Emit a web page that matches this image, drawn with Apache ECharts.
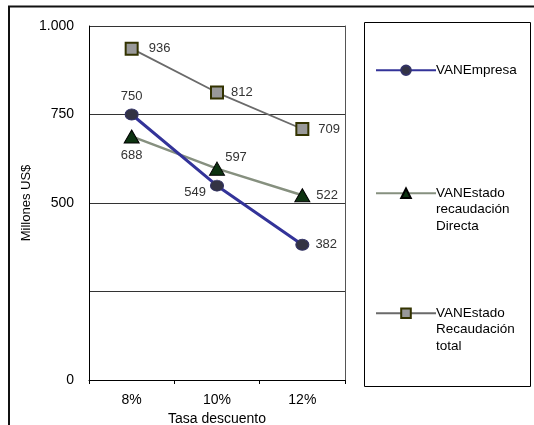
<!DOCTYPE html>
<html>
<head>
<meta charset="utf-8">
<script src="https://cdn.jsdelivr.net/npm/echarts@6/dist/echarts.min.js"></script>
<style>html,body{margin:0;padding:0;background:#fff;}#c{width:534px;height:425px;}</style>
</head>
<body>
<div id="c"></div>
<script>
var categories = ['8%', '10%', '12%'];
var vanEmpresa = [750, 549, 382];
var vanDirecta = [688, 597, 522];
var vanTotal = [936, 812, 709];
var seriesNames = ['VANEmpresa', 'VANEstado recaudación Directa', 'VANEstado Recaudación total'];
var yTickLabels = {0: '0', 250: '', 500: '500', 750: '750', 1000: '1.000'};

var FONT = 'Liberation Sans, Arial, sans-serif';
var lblStyle = {color: '#333', fontSize: 13, fontFamily: FONT};

function withLabels(values, cfgs) {
  return values.map(function (v, i) {
    return {value: v, label: Object.assign({}, cfgs[i])};
  });
}

var chart = echarts.init(document.getElementById('c'), null, {renderer: 'canvas'});
var LH = 16.5;
function legendFor(name, top) {
  return {
    data: [{name: name}],
    left: 375, top: top, padding: 0,
    orient: 'vertical',
    itemWidth: 60, itemHeight: 12, itemGap: 0,
    formatter: function (n) {
      var parts = n.split(' ');
      var pre = '';
      for (var i = 1; i < parts.length; i++) pre += '\n';
      return pre + parts.join('\n');
    },
    textStyle: {color: '#000', fontSize: 13.5, fontFamily: FONT, lineHeight: LH, padding: [0, 0, 0, -5]},
    selectedMode: false
  };
}

var option = {
  backgroundColor: '#fff',
  animation: false,
  grid: {left: 89, top: 26, right: 189, bottom: 45, containLabel: false, outerBoundsMode: 'none'},
  graphic: [
    {type: 'line', shape: {x1: 8, y1: 6.5, x2: 534, y2: 6.5}, style: {stroke: '#111', lineWidth: 2}},
    {type: 'line', shape: {x1: 9, y1: 6, x2: 9, y2: 425}, style: {stroke: '#111', lineWidth: 2}},
    {type: 'rect', shape: {x: 364.5, y: 22.5, width: 166, height: 364}, style: {fill: 'none', stroke: '#000', lineWidth: 1}}
  ],
  legend: [
    legendFor(seriesNames[0], 62),
    legendFor(seriesNames[1], 152),
    legendFor(seriesNames[2], 272)
  ],
  xAxis: {
    type: 'category', data: categories, boundaryGap: true,
    name: 'Tasa descuento', nameLocation: 'middle', nameGap: 29,
    nameTextStyle: {color: '#000', fontSize: 14, fontFamily: FONT},
    axisLine: {lineStyle: {color: '#000', width: 1}},
    axisTick: {show: true, inside: false, length: 4, lineStyle: {color: '#000'}},
    axisLabel: {color: '#000', fontSize: 14, fontFamily: FONT, margin: 13}
  },
  yAxis: [{
    type: 'value', min: 0, max: 1000, interval: 250,
    name: 'Millones US$', nameLocation: 'middle', nameGap: 56,
    nameTextStyle: {color: '#000', fontSize: 13, fontFamily: FONT},
    axisLine: {show: true, lineStyle: {color: '#000', width: 1}},
    axisTick: {show: false},
    axisLabel: {color: '#000', fontSize: 14, fontFamily: FONT, margin: 15,
      formatter: function (v) { return yTickLabels[v]; }},
    splitLine: {show: true, lineStyle: {color: '#333', width: 1}}
  }, {
    type: 'value', min: 0, max: 1000, interval: 250, position: 'right',
    axisLine: {show: true, lineStyle: {color: '#555', width: 1}},
    axisTick: {show: false}, axisLabel: {show: false}, splitLine: {show: false}
  }],
  series: [
    {
      name: seriesNames[0], type: 'line',
      data: withLabels(vanEmpresa, [
        {position: 'top', distance: 6},
        {position: 'left', distance: 4, offset: [0, 7]},
        {position: 'right', distance: 6}
      ]),
      symbol: 'circle', symbolSize: [13, 11],
      lineStyle: {color: '#333399', width: 3},
      itemStyle: {color: '#333344', borderColor: '#333366', borderWidth: 1},
      label: Object.assign({show: true}, lblStyle),
      z: 5
    },
    {
      name: seriesNames[1], type: 'line',
      data: withLabels(vanDirecta, [
        {position: 'bottom', distance: 6},
        {position: 'top', distance: 4, offset: [19, 6]},
        {position: 'right', distance: 6}
      ]),
      symbol: 'triangle', symbolSize: [15, 13],
      lineStyle: {color: '#86907f', width: 2.5},
      itemStyle: {color: '#0d3311', borderColor: '#000', borderWidth: 1},
      label: Object.assign({show: true}, lblStyle),
      z: 4
    },
    {
      name: seriesNames[2], type: 'line',
      data: withLabels(vanTotal, [
        {position: 'right', distance: 10},
        {position: 'right', distance: 7},
        {position: 'right', distance: 9}
      ]),
      symbol: 'rect', symbolSize: [12, 12],
      lineStyle: {color: '#6a6a6a', width: 1.8},
      itemStyle: {color: '#999999', borderColor: '#333300', borderWidth: 2},
      label: Object.assign({show: true}, lblStyle),
      z: 3
    }
  ]
};
chart.setOption(option);
</script>
</body>
</html>
